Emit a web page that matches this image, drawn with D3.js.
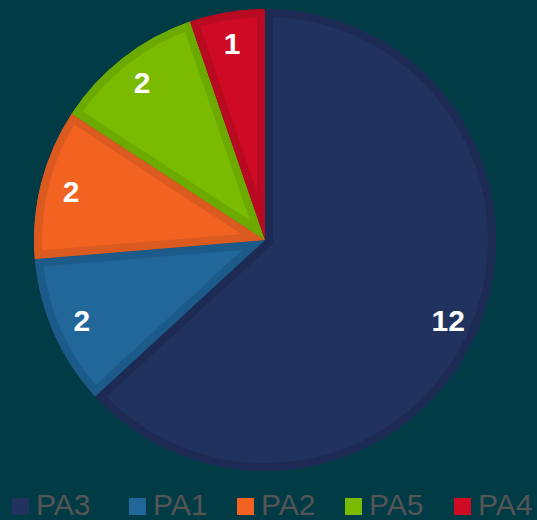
<!DOCTYPE html>
<html>
<head>
<meta charset="utf-8">
<script src="https://cdn.jsdelivr.net/npm/d3@7"></script>
<style>
  html, body { margin: 0; padding: 0; background: #003b46; }
  svg { display: block; }
</style>
</head>
<body>
<div id="pie-container"></div>
<script>
const categories = ["PA3", "PA1", "PA2", "PA5", "PA4"];
const counts = [12, 2, 2, 2, 1];
const fillColours = ["#22325e", "#21679a", "#f26322", "#7aba00", "#ce0a24"];
const edgeColours = ["#1d2b54", "#1c5b89", "#da5a1f", "#6caa00", "#b80a21"];

const width = 537, height = 520;
const cx = 265, cy = 240, radius = 231;

let svg = d3.select("#pie-container")
    .append("svg")
    .attr("width", width)
    .attr("height", height);

let data = categories.map((c, i) => ({name: c, value: counts[i], i: i}));

let pie = d3.pie()
    .sort(null)
    .value(d => d.value);

let arc = d3.arc()
    .innerRadius(0)
    .outerRadius(radius);

let labelArc = d3.arc()
    .innerRadius(200)
    .outerRadius(200);

let arcs = pie(data);

let defs = svg.append("defs");
defs.selectAll("clipPath")
    .data(arcs)
    .enter().append("clipPath")
    .attr("id", d => "clip-" + d.data.i)
    .append("path")
    .attr("d", arc);

let g = svg.append("g")
    .attr("transform", `translate(${cx},${cy})`);

// slices, with a darker inner border (stroke clipped to the slice)
g.selectAll(".slice")
    .data(arcs)
    .enter().append("path")
    .attr("class", "slice")
    .attr("d", arc)
    .attr("clip-path", d => `url(#clip-${d.data.i})`)
    .style("fill", d => fillColours[d.data.i])
    .style("stroke", d => edgeColours[d.data.i])
    .style("stroke-width", 16)
    .style("stroke-linejoin", "miter");

g.selectAll(".label")
    .data(arcs)
    .enter().append("text")
    .attr("class", "label")
    .attr("transform", d => `translate(${labelArc.centroid(d)})`)
    .attr("dy", "0.36em")
    .style("text-anchor", "middle")
    .style("font", "bold 30px 'Liberation Sans', Arial, sans-serif")
    .style("fill", "#ffffff")
    .text(d => d.data.value);

// Legend
const legendX = [12, 129, 237, 345, 454];
let legend = svg.append("g").attr("class", "legend");
let items = legend.selectAll(".item")
    .data(data)
    .enter().append("g")
    .attr("class", "item")
    .attr("transform", (d, i) => `translate(${legendX[i]}, 498)`);

items.append("rect")
    .attr("width", 17)
    .attr("height", 17)
    .style("fill", d => fillColours[d.i]);

items.append("text")
    .attr("x", 24)
    .attr("y", 17)
    .style("font", "30px 'Liberation Sans', Arial, sans-serif")
    .style("fill", "#555555")
    .text(d => d.name);
</script>
</body>
</html>
